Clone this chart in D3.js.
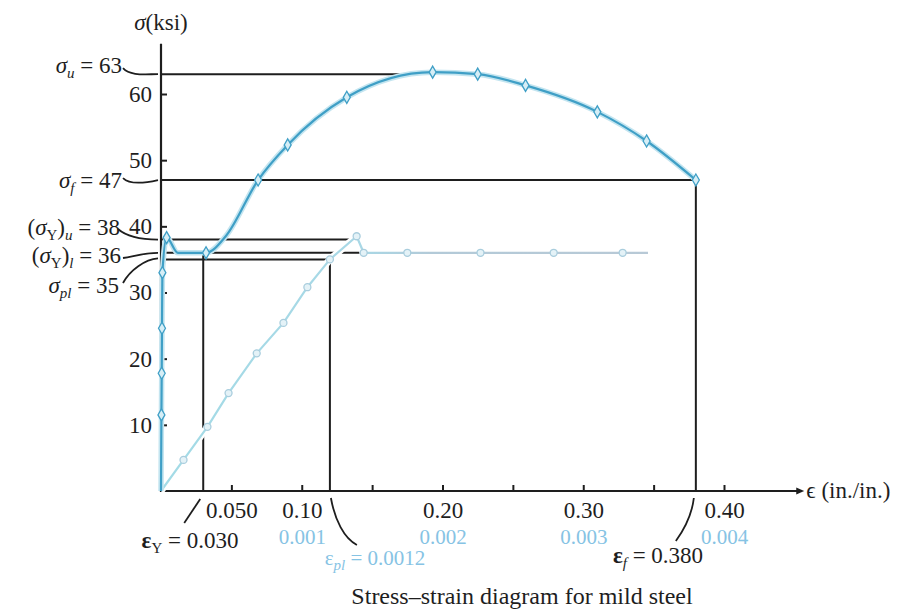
<!DOCTYPE html>
<html><head><meta charset="utf-8">
<script src="https://cdn.jsdelivr.net/npm/d3@7/dist/d3.min.js"></script>
<style>
body{margin:0;background:#fff}
text{font-family:"Liberation Serif","Times New Roman",serif}
</style>
</head><body>
<svg id="c" width="908" height="610"></svg>
<script>
// ---------- data ----------
const stressTicks = [10, 20, 30, 40, 50, 60];
const strainTicks = [0.05, 0.10, 0.15, 0.20, 0.25, 0.30, 0.35, 0.40];
const strainTickLabels = ["0.050", "0.10", "", "0.20", "", "0.30", "", "0.40"];
const smallStrainTicks = [0.001, 0.002, 0.003, 0.004];
const smallStrainTickLabels = ["0.001", "0.002", "0.003", "0.004"];

// full curve (large strain scale)
const plasticStrain = [0, 0.0003, 0.0005, 0.0007, 0.0010, 0.004, 0.012, 0.032, 0.046, 0.069, 0.09, 0.132, 0.193, 0.225, 0.259, 0.31, 0.345, 0.38];
const plasticStress = [0, 11.5, 17.8, 24.6, 33, 38.3, 36, 36, 38.5, 47, 52.3, 59.5, 63.3, 63, 61.3, 57.3, 52.9, 47];
const plasticMarked = [0, 1, 1, 1, 1, 1, 0, 1, 0, 1, 1, 1, 1, 1, 1, 1, 1, 1];

// elastic region (small strain scale)
const elasticStrain = [0, 0.00016, 0.00033, 0.00048, 0.00068, 0.00087, 0.00104, 0.0012, 0.00139, 0.00144, 0.00175, 0.00227, 0.00279, 0.00328, 0.00346];
const elasticStress = [0, 4.7, 9.7, 14.8, 20.8, 25.4, 30.8, 35, 38.5, 36, 36, 36, 36, 36, 36];
const elasticMarked = [0, 1, 1, 1, 1, 1, 1, 1, 1, 1, 1, 1, 1, 1, 0];

// reference lines
const refStress = [63, 47, 38, 36, 35];
const refStressStart = [0, 0, 0, 0, 0.0035];
const refStressEnd = [0.175, 0.38, 0.136, 0.141, 0.12];
const refStrain = [0.03, 0.12, 0.38];
const refStrainTop = [36, 35, 47];

// ---------- drawing ----------
const svg = d3.select("#c");
const x = d3.scaleLinear([0, 0.4], [161, 724]);
const xs = d3.scaleLinear([0, 0.004], [161, 724]);
const y = d3.scaleLinear([0, 60], [491, 94]);

const INK = "#1e1e1e", DARK = "#3f9fc6", LTEXT = "#86c3e4";
const FS = 23, FSS = 21, SUB = 15;

// gradient for the elastic curve (cyan diagonal, greyish plateau)
const grad = svg.append("defs").append("linearGradient").attr("id", "lg")
  .attr("gradientUnits", "userSpaceOnUse").attr("x1", xs(0)).attr("x2", xs(0.0035)).attr("y1", 0).attr("y2", 0);
grad.append("stop").attr("offset", "0%").attr("stop-color", "#a3dbe6");
grad.append("stop").attr("offset", "40%").attr("stop-color", "#a8d8e6");
grad.append("stop").attr("offset", "55%").attr("stop-color", "#b3cad8");
grad.append("stop").attr("offset", "100%").attr("stop-color", "#b8c9d6");

// axes
const gy = svg.append("g").attr("transform", `translate(${x(0)},0)`)
  .call(d3.axisLeft(y).tickValues(stressTicks).tickSizeInner(-6).tickSizeOuter(0).tickPadding(9));
const gx = svg.append("g").attr("transform", `translate(0,${y(0)})`)
  .call(d3.axisBottom(x).tickValues(strainTicks).tickFormat((d, i) => strainTickLabels[i]).tickSizeInner(-6).tickSizeOuter(0).tickPadding(11));
const gs = svg.append("g").attr("transform", `translate(0,${y(0)})`)
  .call(d3.axisBottom(xs).tickValues(smallStrainTicks).tickFormat((d, i) => smallStrainTickLabels[i]).tickSize(0).tickPadding(38));
[gy, gx, gs].forEach(g => {
  g.select(".domain").remove();
  g.selectAll("line").attr("stroke", INK).attr("stroke-width", 2);
  g.selectAll("text").attr("font-size", FS).attr("fill", INK).style("font-family", '"Liberation Serif",serif');
});
gs.selectAll("text").attr("fill", LTEXT).attr("font-size", FSS);

svg.append("line").attr("x1", x(0)).attr("x2", x(0)).attr("y1", y(0) + 1).attr("y2", y(67.6))
  .attr("stroke", INK).attr("stroke-width", 2.2);
svg.append("line").attr("x1", x(0) - 1).attr("x2", x(0.453)).attr("y1", y(0)).attr("y2", y(0))
  .attr("stroke", INK).attr("stroke-width", 2.2);
svg.append("path").attr("d", `M${x(0.457)},${y(0)} l-8,-3.5 l0,7 z`).attr("fill", INK);
svg.append("text").attr("x", x(0.4585)).attr("y", y(0) + 7).attr("font-size", FS).attr("fill", INK).text("ϵ (in./in.)");

// axis title
svg.append("text").attr("x", x(0)).attr("y", 30).attr("text-anchor", "middle").attr("font-size", FS).attr("fill", INK)
  .html('<tspan font-style="italic">σ</tspan>(ksi)');

// reference lines
svg.append("g").selectAll("line").data(refStress).join("line")
  .attr("x1", (d, i) => x(refStressStart[i])).attr("x2", (d, i) => x(refStressEnd[i]))
  .attr("y1", d => y(d)).attr("y2", d => y(d)).attr("stroke", INK).attr("stroke-width", 2);
svg.append("g").selectAll("line").data(refStrain).join("line")
  .attr("x1", d => x(d)).attr("x2", d => x(d))
  .attr("y1", (d, i) => y(refStrainTop[i])).attr("y2", y(0)).attr("stroke", INK).attr("stroke-width", 2);

// elastic curve (small strain scale)
const eData = elasticStrain.map((s, i) => ({ s, v: elasticStress[i], m: elasticMarked[i] }));
const eLine = d3.line().x(d => xs(d.s)).y(d => y(d.v));
svg.append("path").attr("d", eLine(eData)).attr("fill", "none").attr("stroke", "#fff").attr("stroke-width", 7);
svg.append("path").attr("d", eLine(eData)).attr("fill", "none").attr("stroke", "url(#lg)").attr("stroke-width", 2.2);
svg.append("g").selectAll("circle").data(eData.filter(d => d.m)).join("circle")
  .attr("cx", d => xs(d.s)).attr("cy", d => y(d.v)).attr("r", 3.5)
  .attr("fill", "#e4f2f7").attr("stroke", "#a9cddd").attr("stroke-width", 1.3);

// full curve
const pData = plasticStrain.map((s, i) => ({ s, v: plasticStress[i], m: plasticMarked[i] }));
const pLine = d3.line().x(d => x(d.s)).y(d => y(d.v)).curve(d3.curveMonotoneX);
svg.append("path").attr("d", pLine(pData)).attr("fill", "none").attr("stroke", "#c4e5f0").attr("stroke-width", 5.5);
svg.append("path").attr("d", pLine(pData)).attr("fill", "none").attr("stroke", DARK).attr("stroke-width", 2.2);
svg.append("g").selectAll("path").data(pData.filter(d => d.m)).join("path")
  .attr("transform", d => `translate(${x(d.s)},${y(d.v)})`)
  .attr("d", d3.symbol(d3.symbolDiamond, 42))
  .attr("fill", "#d6eef6").attr("stroke", DARK).attr("stroke-width", 1.3);

// ---------- annotations ----------
function label(xp, yp, html, anchor, color, size) {
  svg.append("text").attr("x", xp).attr("y", yp).attr("text-anchor", anchor || "start")
    .attr("font-size", size || FS).attr("fill", color || INK).html(html);
}
const sub = t => `<tspan font-size="${SUB}" dy="5">${t}</tspan><tspan dy="-5"> </tspan>`;
const sig = '<tspan font-style="italic">σ</tspan>';
const eps = '<tspan font-weight="bold">ε</tspan>';

label(122, 73, `${sig}${sub('<tspan font-style="italic">u</tspan>')}= 63`, "end");
label(122, 188, `${sig}${sub('<tspan font-style="italic">f</tspan>')}= 47`, "end");
label(120, 235, `(${sig}<tspan font-size="${SUB}" dy="5">Y</tspan><tspan dy="-5">)</tspan>${sub('<tspan font-style="italic">u</tspan>')}= 38`, "end");
label(121, 263, `(${sig}<tspan font-size="${SUB}" dy="5">Y</tspan><tspan dy="-5">)</tspan>${sub('<tspan font-style="italic">l</tspan>')}= 36`, "end");
label(119, 293, `${sig}${sub('<tspan font-style="italic">pl</tspan>')}= 35`, "end");

const lead = d => svg.append("path").attr("d", d).attr("fill", "none").attr("stroke", INK).attr("stroke-width", 1.8);
lead(`M123,${y(63) - 6} C130,${y(63) + 2} 145,${y(63)} ${x(0) - 3},${y(63)}`);
lead(`M123,${y(47) - 2} C130,${y(47) + 5} 145,${y(47) + 3} ${x(0) - 3},${y(47)}`);
lead(`M118,229 C127,237 140,${y(38)} ${x(0) - 3},${y(38)}`);
lead(`M123,258 C135,256 145,${y(36)} ${x(0) - 3},${y(36)}`);
lead(`M123,283 C130,270 145,${y(35)} ${x(0) - 3},${y(35) - 1}`);

// bottom annotations
lead(`M${x(0.03) - 19},523 L${x(0.03) - 3},499`);
label(190, 548, `${eps}${sub("Y")}= 0.030`, "middle");
lead(`M${x(0.12) + 1},498 C${x(0.12) + 5},520 ${x(0.12) + 14},538 ${x(0.12) + 27},545`);
label(375, 565, `<tspan>ε</tspan>${sub('<tspan font-style="italic">pl</tspan>')}= 0.0012`, "middle", LTEXT, FSS);
lead(`M${x(0.38) - 2},498 C${x(0.38) - 4},515 ${x(0.38) - 12},530 ${x(0.38) - 20},541`);
label(658, 563, `${eps}${sub('<tspan font-style="italic">f</tspan>')}= 0.380`, "middle");

// caption
label(522, 604, "Stress–strain diagram for mild steel", "middle", INK, 24);
</script>
</body></html>
